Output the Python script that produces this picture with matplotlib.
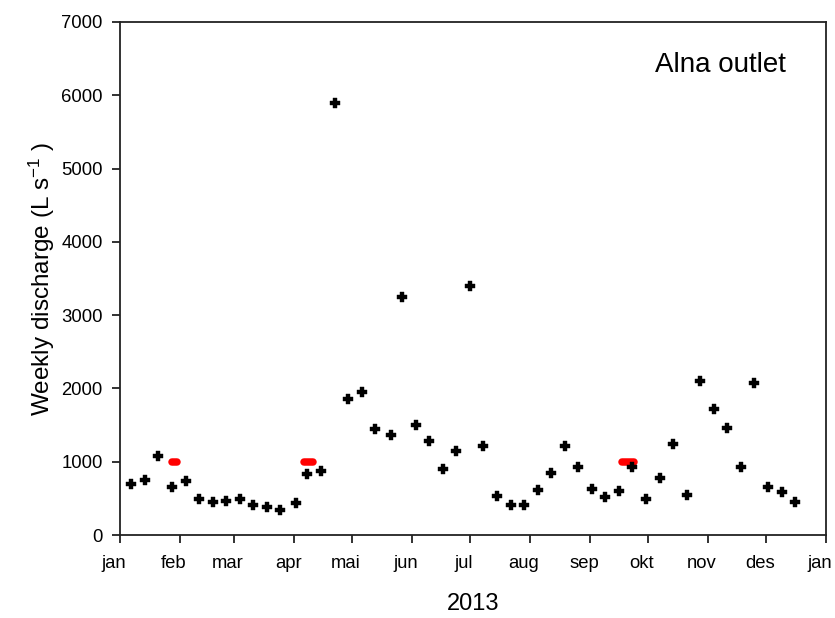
import matplotlib
matplotlib.use("Agg")
import matplotlib.pyplot as plt
from matplotlib.transforms import ScaledTranslation

plt.rcParams['font.family'] = ['Liberation Sans', 'DejaVu Sans']
plt.rcParams['mathtext.fontset'] = 'custom'
plt.rcParams['mathtext.rm'] = 'Liberation Sans'
plt.rcParams['mathtext.it'] = 'Liberation Sans:italic'
plt.rcParams['mathtext.default'] = 'regular'

# Day of year 2013 (0 = 1 Jan) and weekly discharge (L/s)
days = [5.8, 12.9, 19.8, 27.0, 34.0, 40.8, 47.9, 54.8, 61.9, 68.8,
        75.8, 82.9, 90.8, 96.9, 103.9, 111.0, 118.0, 125.0, 131.8, 140.0,
        146.0, 152.9, 160.0, 167.0, 173.9, 181.0, 187.9, 195.0, 202.0, 209.0,
        216.0, 222.9, 229.9, 236.8, 243.9, 251.0, 257.9, 264.9, 272.0, 279.0,
        286.0, 293.0, 299.9, 307.0, 314.0, 321.0, 328.0, 335.0, 342.0, 349.0]
discharge = [692, 755, 1078, 659, 741, 491, 446, 468, 491, 409,
             386, 345, 432, 836, 877, 5890, 1860, 1946, 1450, 1369,
             3247, 1496, 1278, 900, 1150, 3393, 1218, 528, 409, 409,
             610, 846, 1214, 928, 623, 523, 605, 928, 491, 773,
             1246, 546, 2096, 1723, 1464, 928, 2078, 655, 587, 455]

# Red event periods (start day, end day) at level 1000
event_starts = [27.1, 95.2, 259.5]
event_ends = [29.7, 99.9, 265.9]
event_level = 1000

month_pos = [0, 31, 59, 90, 120, 151, 181, 212, 243, 273, 304, 334, 365]
month_labels = ['jan', 'feb', 'mar', 'apr', 'mai', 'jun', 'jul', 'aug',
                'sep', 'okt', 'nov', 'des', 'jan']
y_ticks = [0, 1000, 2000, 3000, 4000, 5000, 6000, 7000]

fig = plt.figure(figsize=(8.35, 6.18), dpi=100)
ax = fig.add_axes([120/835, 83/618, 706/835, 513/618])

for s, e in zip(event_starts, event_ends):
    ax.plot([s, e], [event_level, event_level], color='#ff0000', lw=5.4,
            solid_capstyle='round', zorder=2)

ax.plot(days, discharge, linestyle='none', marker='P', ms=6.8,
        color='black', mec='black', mew=0.3, zorder=3)

ax.set_xlim(0, 365)
ax.set_ylim(0, 7000)
ax.set_xticks(month_pos)
ax.set_xticklabels(month_labels)
ax.set_yticks(y_ticks)

for sp in ax.spines.values():
    sp.set_linewidth(1.3)
    sp.set_color('#222222')

ax.tick_params(axis='both', direction='out', length=5.5, width=1.3,
               color='#222222', labelsize=13.3, pad=7)
ax.tick_params(axis='x', pad=9)

offset = ScaledTranslation(-6/100, 0, fig.dpi_scale_trans)
for lab in ax.get_xticklabels():
    lab.set_transform(lab.get_transform() + offset)

ax.set_xlabel('2013', fontsize=17, labelpad=15)
ax.set_ylabel('Weekly discharge (L s$^{-1}$ )', fontsize=17.5, labelpad=3)

ax.text(0.758, 0.9025, 'Alna outlet', transform=ax.transAxes,
        fontsize=20, ha='left', va='baseline')

fig.savefig('out.png', dpi=100)
